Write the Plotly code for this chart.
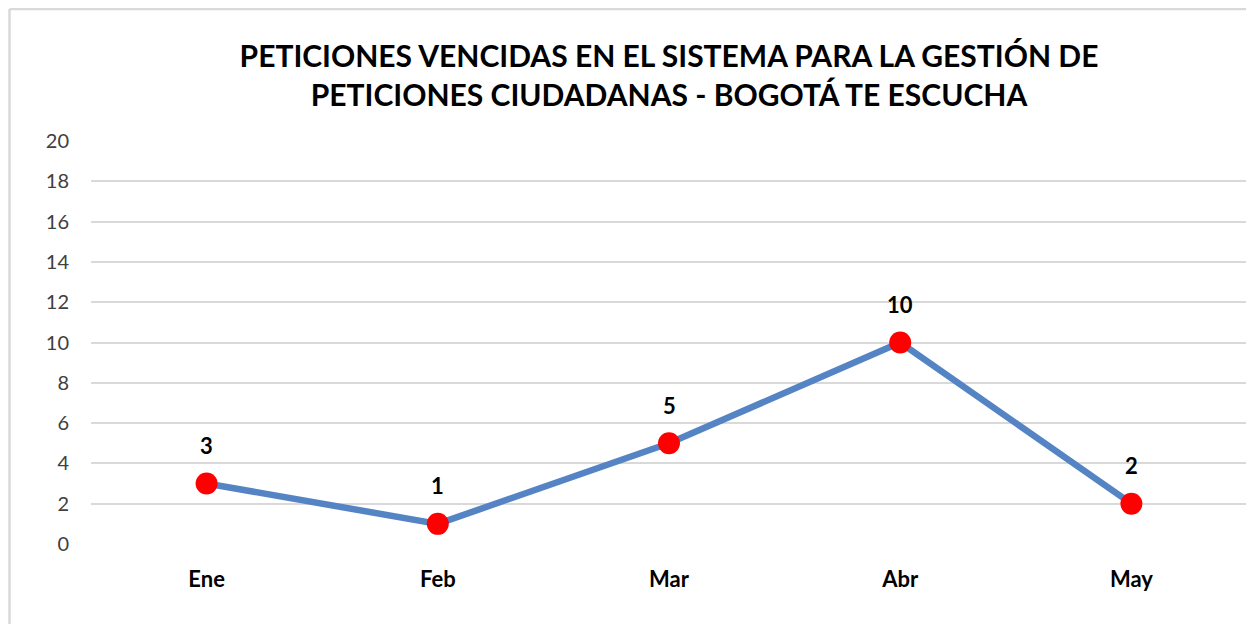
import plotly.graph_objects as go

months = ["Ene", "Feb", "Mar", "Abr", "May"]
values = [3, 1, 5, 10, 2]
y_ticks = [0, 2, 4, 6, 8, 10, 12, 14, 16, 18, 20]
title_text = ("PETICIONES VENCIDAS EN EL SISTEMA PARA LA GESTIÓN DE<br>"
              "PETICIONES CIUDADANAS - BOGOTÁ TE ESCUCHA")

fig = go.Figure()
fig.add_trace(go.Scatter(
    x=months, y=values, mode="lines+markers",
    line=dict(color="#5584C4", width=6.5),
    marker=dict(color="#FF0000", size=22),
    hoverinfo="skip", showlegend=False,
))

for m, v in zip(months, values):
    fig.add_annotation(x=m, y=v, text=f"<b>{v}</b>", showarrow=False,
                       yshift=38, font=dict(family="Lato", size=22, color="#000000"))

fig.add_shape(type="line", xref="paper", yref="paper",
              x0=-0.0705, x1=1.02, y0=1.3275, y1=1.3275,
              line=dict(color="#D9D9D9", width=2.5))
fig.add_shape(type="line", xref="paper", yref="paper",
              x0=-0.0705, x1=-0.0705, y0=1.3275, y1=-0.25,
              line=dict(color="#D9D9D9", width=2.5))

fig.update_layout(
    width=1246, height=616,
    margin=dict(l=83, r=7, t=133, b=80),
    paper_bgcolor="white", plot_bgcolor="white",
    title=dict(text=f"<b>{title_text}</b>", x=0.5, xref="paper",
               y=0.904, yanchor="middle",
               font=dict(family="Lato", size=30, color="#000000")),
    xaxis=dict(range=[-0.5, 4.5], showgrid=False, showline=False, zeroline=False,
               ticks="", ticklabelstandoff=20,
               tickfont=dict(family="Lato", size=22, color="#000000"),
               tickprefix="<b>", ticksuffix="</b>"),
    yaxis=dict(range=[0, 20], tickvals=y_ticks, showgrid=True,
               gridcolor="#D9D9D9", gridwidth=2, zeroline=False, showline=False,
               ticks="", ticklabelstandoff=21,
               tickfont=dict(family="Lato", size=20, color="#404040")),
)

fig.write_html("out.html")
